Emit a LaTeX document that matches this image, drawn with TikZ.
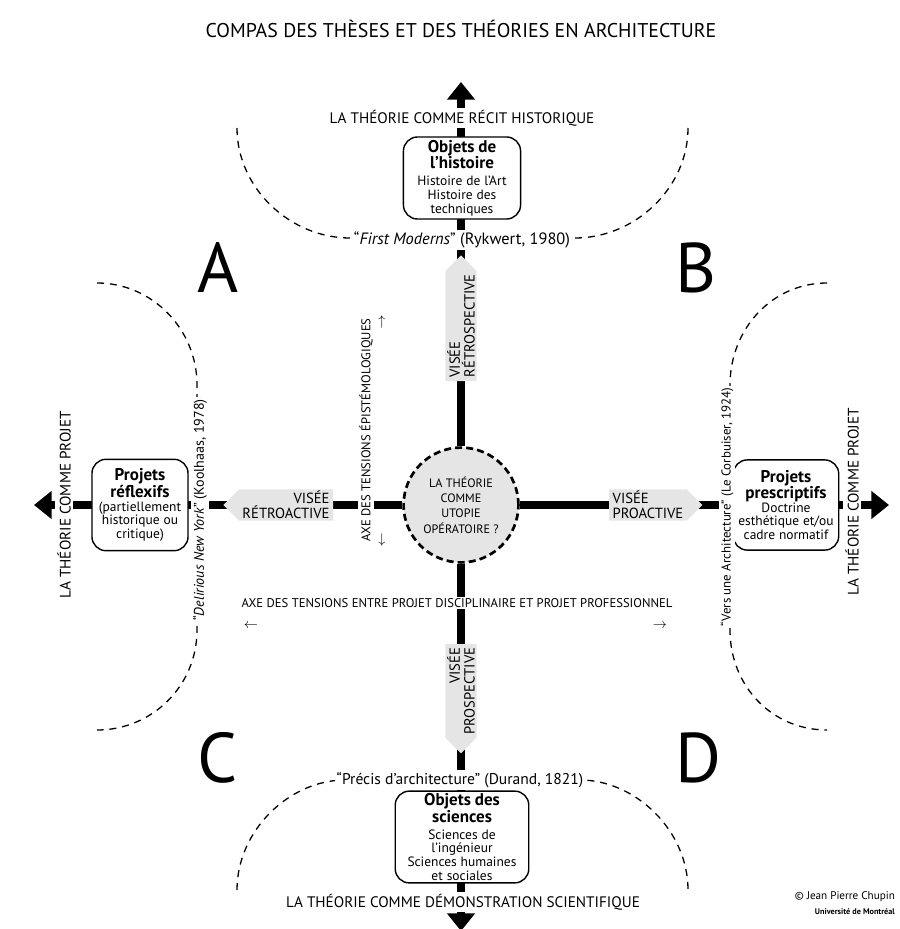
\documentclass[tikz,border=0pt]{standalone}
\usepackage{fontspec}
\setmainfont{PT Sans}
\usepackage{tikz}
\usetikzlibrary{arrows.meta, shapes.symbols}

\newcommand{\boitetitre}{\fontsize{14.5}{12}\selectfont\bfseries}
\newcommand{\boitetexte}{\fontsize{11.5}{11.5}\selectfont\mdseries}

\tikzset{
  axe/.style={line width=6.8pt, -{Triangle[length=15pt,width=23pt]}},
  boite/.style={draw, line width=1.2pt, rounded corners=12pt, fill=white, align=center, inner sep=2pt},
  visee/.style={signal, fill=black!10, inner xsep=3pt, inner ysep=1.5pt, font=\fontsize{12.5}{12.5}\selectfont},
  titre/.style={fill=white, inner sep=2pt, font=\fontsize{13}{14}\selectfont},
  citation/.style={fill=white, inner sep=1.5pt, font=\fontsize{11}{13}\selectfont},
  axetension/.style={fill=white, inner sep=1pt, font=\fontsize{10.8}{12}\selectfont},
  fleche/.style={inner sep=0pt, font=\fontsize{13}{13}\selectfont},
  quadrant/.style={font=\fontsize{60}{62}\selectfont},
  pointille/.style={line width=1.1pt, dash pattern=on 6pt off 5pt},
}

\begin{document}
\begin{tikzpicture}[x=0.03cm, y=-0.03cm]
        \useasboundingbox (0,0) rectangle (899,929);

        % Centre
        \node[circle, draw, line width=2.3pt, dash pattern=on 6pt off 3.5pt, fill=black!10,
              minimum size=98pt, align=center, inner sep=0pt,
              font=\fontsize{10.4}{13}\selectfont] (utopie) at (461,505)
            {LA THÉORIE\\COMME\\UTOPIE\\OPÉRATOIRE ?};

        % Axes
        \coordinate (haut) at (461,82);
        \coordinate (bas) at (461,931);
        \coordinate (gauche) at (34,505);
        \coordinate (droite) at (889,505);
        \draw[axe] (utopie) -- (haut);
        \draw[axe] (utopie) -- (bas);
        \draw[axe] (utopie) -- (gauche);
        \draw[axe] (utopie) -- (droite);

        % Dashed limits
        \draw[pointille] (237,128) .. controls (237,188) and (290,238) .. (350,238)
            -- (575,238) .. controls (635,238) and (688,188) .. (688,128);
        \draw[pointille] (237,890) .. controls (237,830) and (290,780) .. (345,780)
            -- (580,780) .. controls (635,780) and (688,830) .. (688,890);
        \draw[pointille] (97,283) .. controls (152,283) and (197,329) .. (197,385)
            -- (197,630) .. controls (197,686) and (152,730) .. (97,730);
        \draw[pointille] (827,283) .. controls (772,283) and (730,329) .. (730,385)
            -- (730,630) .. controls (730,686) and (772,730) .. (827,730);

        % Title
        \node[font=\fontsize{17}{19}\selectfont] (titre) at (461,29)
            {COMPAS DES THÈSES ET DES THÉORIES EN ARCHITECTURE};

        % Poles
        \node[titre] (recit) at (462,118) {LA THÉORIE COMME RÉCIT HISTORIQUE};
        \node[titre] (demo) at (463,902) {LA THÉORIE COMME DÉMONSTRATION SCIENTIFIQUE};
        \node[titre, rotate=90] (projetg) at (64,505) {LA THÉORIE COMME PROJET};
        \node[titre, rotate=90] (projetd) at (852,502) {LA THÉORIE COMME PROJET};

        % Boxes
        \node[boite, text width=96pt, minimum height=70pt] (histoire) at (462,178)
            {\boitetitre Objets de\\l’histoire\\[3pt]\boitetexte Histoire de l’Art\\Histoire des\\techniques};
        \node[boite, text width=110pt, minimum height=75pt] (sciences) at (462,837)
            {\boitetitre Objets des\\sciences\\[3pt]\boitetexte Sciences de\\l’ingénieur\\Sciences humaines\\et sociales};
        \node[boite, text width=78pt, minimum height=78pt] (reflexifs) at (140,505)
            {\boitetitre Projets\\réflexifs\\\boitetexte (partiellement\\historique ou\\critique)};
        \node[boite, text width=86pt, minimum height=77pt] (prescriptifs) at (786,505)
            {\boitetitre Projets\\prescriptifs\\\boitetexte Doctrine\\esthétique et/ou\\cadre normatif};

        % Quotes
        \node[citation, font=\fontsize{14}{15}\selectfont] (rykwert) at (462,240) {“\textit{First Moderns}” (Rykwert, 1980)};
        \node[citation, font=\fontsize{13.3}{15}\selectfont] (durand) at (460,780) {“Précis d’architecture” (Durand, 1821)};
        \node[citation, rotate=90, font=\fontsize{12}{13}\selectfont] (koolhaas) at (200,510) {“\textit{Delirious New York}” (Koolhaas, 1978)};
        \node[citation, rotate=90] (corbu) at (727,507) {“Vers une Architecture” (Le Corbuiser, 1924)};

        % Aims
        \node[visee, rotate=90, signal to=east, align=left] (retro) at (461,326) {VISÉE\\RÉTROSPECTIVE};
        \node[visee, rotate=90, signal to=west, align=right] (prosp) at (461,691) {VISÉE\\PROSPECTIVE};
        \node[visee, signal to=west, align=right] (retroact) at (286,505) {VISÉE\\RÉTROACTIVE};
        \node[visee, signal to=east, align=left] (proact) at (648,505) {VISÉE\\PROACTIVE};

        % Tensions
        \node[axetension] (discipline) at (457,603)
            {AXE DES TENSIONS ENTRE PROJET DISCIPLINAIRE ET PROJET PROFESSIONNEL};
        \node[fleche] (flecheg) at (251,626) {$\leftarrow$};
        \node[fleche] (fleched) at (660,626) {$\rightarrow$};
        \node[axetension, rotate=90] (episteme) at (366,430) {AXE DES TENSIONS ÉPISTÉMOLOGIQUES};
        \node[fleche] (flecheh) at (382,322) {$\uparrow$};
        \node[fleche] (flecheb) at (382,540) {$\downarrow$};

        % Labels
        \node[quadrant] (A) at (218,268) {A};
        \node[quadrant] (B) at (696,268) {B};
        \node[quadrant] (C) at (218,758) {C};
        \node[quadrant] (D) at (698,758) {D};

        % Credit
        \node[anchor=east, font=\fontsize{9.5}{11}\selectfont] (auteur) at (899,897) {© Jean Pierre Chupin};
        \node[anchor=east, font=\fontsize{7}{8}\selectfont\bfseries] (udem) at (899,912) {Université de Montréal};
    \end{tikzpicture}
\end{document}
